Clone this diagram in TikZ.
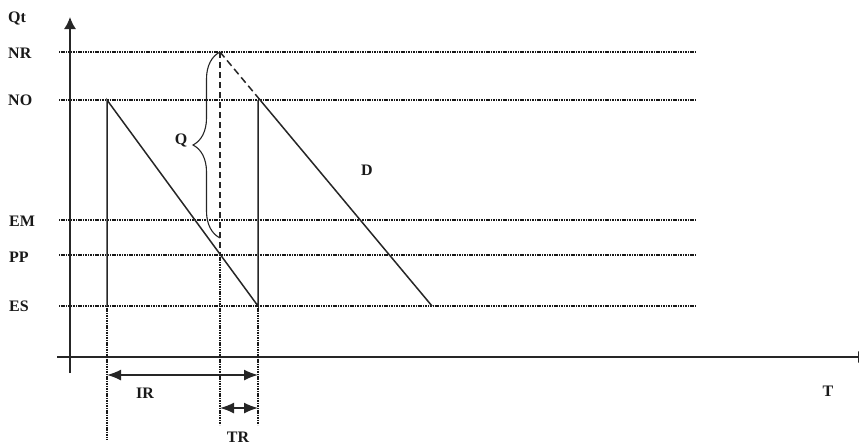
\documentclass[tikz,border=0pt]{standalone}
\usepackage{fontspec}
\setmainfont{Liberation Serif}
\usetikzlibrary{arrows.meta,decorations.pathreplacing}
\begin{document}
\begin{tikzpicture}[x=1pt,y=-1pt,
  lbl/.style={font=\fontsize{16}{18}\selectfont\bfseries, inner sep=0pt, text=black!90},
  dotline/.style={line width=1.8pt, dash pattern=on 1.1pt off 0.6pt, black!90},
  sline/.style={line width=1.5pt, black!85},
  dline/.style={line width=1.5pt, black!85, dash pattern=on 7pt off 4pt},
  dbl/.style={sline, {Latex[length=14pt,width=11pt]}-{Latex[length=14pt,width=11pt]}},
  bracestyle/.style={line width=1.1pt, black!85, decorate, decoration={brace, amplitude=27pt}}
]
\useasboundingbox (0,0) rectangle (859,447);
% axes
\coordinate (ytop) at (70,17);
\coordinate (ybot) at (70,373);
\coordinate (xl) at (57,357);
\coordinate (xr) at (871,357);
\draw[sline, -{Latex[length=12pt,width=12pt]}] (ybot) -- (ytop);
\draw[sline, -{Latex[length=13pt,width=12pt]}] (xl) -- (xr);
% levels
\foreach \n/\y in {NR/52, NO/100, EM/220, PP/255, ES/306} {
  \coordinate (\n l) at (59,\y);
  \coordinate (\n r) at (695,\y);
  \draw[dotline] (\n l) -- (\n r);
}
% labels
\node[lbl, anchor=west] (lQt) at (8,19) {Qt};
\node[lbl, anchor=west] (lNR) at (8,53) {NR};
\node[lbl, anchor=west] (lNO) at (8,100) {NO};
\node[lbl, anchor=west] (lEM) at (9,221) {EM};
\node[lbl, anchor=west] (lPP) at (9,257) {PP};
\node[lbl, anchor=west] (lES) at (9,306) {ES};
\node[lbl] (lQ) at (181,140) {Q};
\node[lbl] (lD) at (367,170) {D};
\node[lbl] (lIR) at (145,393) {IR};
\node[lbl] (lTR) at (238,437) {TR};
\node[lbl] (lT) at (828,391) {T};
% key points
\coordinate (A) at (107,100);
\coordinate (C) at (107,306);
\coordinate (B) at (258,306);
\coordinate (E) at (258,100);
\coordinate (P) at (220,52);
\coordinate (Qp) at (220,255);
\coordinate (F) at (258,97.5);
\coordinate (G) at (432,306);
\coordinate (Cd) at (107,440);
\coordinate (Qd) at (220,425);
\coordinate (Bd) at (258,425);
\coordinate (BrB) at (220,238);
\coordinate (IRl) at (107,375);
\coordinate (IRr) at (258,375);
\coordinate (TRl) at (220,408);
\coordinate (TRr) at (258,408);
% stock curves
\draw[sline] (C) -- (A) -- (B) -- (E);
\draw[dline] (P) -- (F);
\draw[sline] (F) -- (G);
\draw[line width=1.5pt, black!85, dash pattern=on 6pt off 4pt] (P) -- (Qp);
% dotted verticals
\draw[dotline] (C) -- (Cd);
\draw[dotline] (Qp) -- (Qd);
\draw[dotline] (B) -- (Bd);
% brace
\draw[bracestyle] (BrB) -- (P);
% interval arrows
\draw[dbl] (IRl) -- (IRr);
\draw[dbl] (TRl) -- (TRr);
\end{tikzpicture}
\end{document}
